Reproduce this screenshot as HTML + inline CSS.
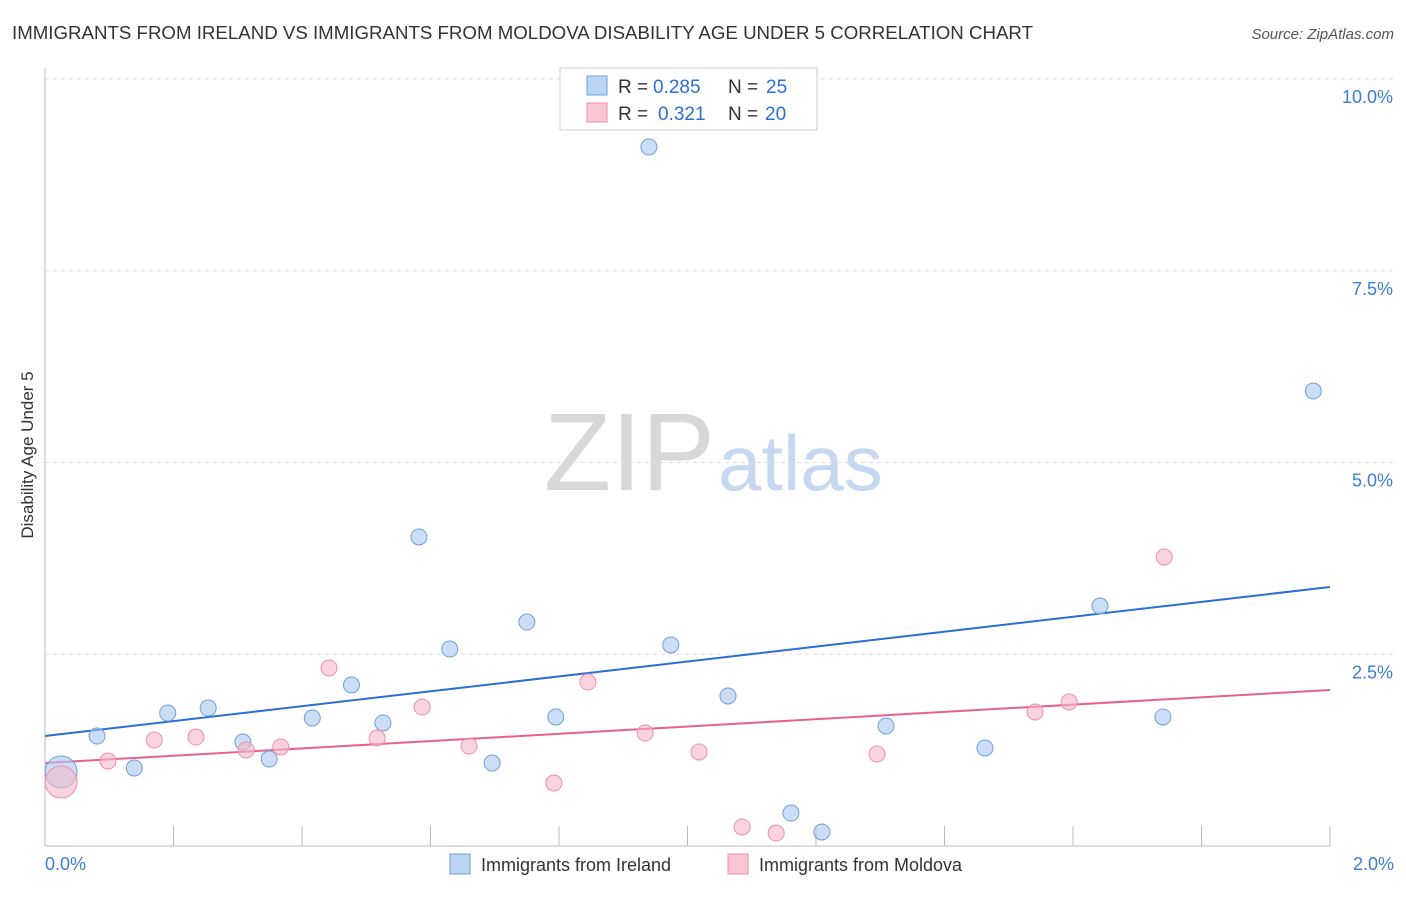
<!DOCTYPE html>
<html><head><meta charset="utf-8"><style>
body{margin:0;background:#fff;font-family:"Liberation Sans",sans-serif;}
svg text{font-family:"Liberation Sans",sans-serif;}
</style></head><body>
<svg id="chart" width="1406" height="892" viewBox="0 0 1406 892" xmlns="http://www.w3.org/2000/svg">
<text x="12" y="39" font-size="18" fill="#333" textLength="1021" lengthAdjust="spacingAndGlyphs">IMMIGRANTS FROM IRELAND VS IMMIGRANTS FROM MOLDOVA DISABILITY AGE UNDER 5 CORRELATION CHART</text>
<text x="1394" y="39" font-size="15" fill="#555" font-style="italic" text-anchor="end">Source: ZipAtlas.com</text>
<g>
<text x="715" y="490" font-size="110" fill="#d8d8d8" text-anchor="end" font-family="Liberation Serif,serif">ZIP</text>
<text x="718" y="490" font-size="78" fill="#c5d8f0">atlas</text>
</g>
<g id="grid"></g>
<line x1="45" y1="68" x2="45" y2="846" stroke="#bbb"/>
<line x1="45" y1="846" x2="1330" y2="846" stroke="#bbb"/>
<g id="xticks"></g>
<text transform="translate(33,455) rotate(-90)" font-size="17" fill="#333" text-anchor="middle">Disability Age Under 5</text>
<text x="45" y="870" font-size="18" fill="#3b7dd8">0.0%</text>
<text x="1394" y="870" font-size="18" fill="#3b7dd8" text-anchor="end">2.0%</text>
<g id="lines"></g>
<g id="points"></g>
<g>
<rect x="560" y="68" width="257" height="62" fill="#fff" stroke="#ccc"/>
<rect x="587" y="76" width="20" height="19" fill="#bcd4f4" stroke="#6fa0dc"/>
<rect x="587" y="103" width="20" height="19" fill="#f9c6d4" stroke="#ee8fab"/>
<text x="618" y="93" font-size="19" fill="#333">R =</text>
<text x="653" y="93" font-size="19" fill="#2a6fd6">0.285</text>
<text x="728" y="93" font-size="19" fill="#333">N =</text>
<text x="766" y="93" font-size="19" fill="#2a6fd6">25</text>
<text x="618" y="120" font-size="19" fill="#333">R =</text>
<text x="658" y="120" font-size="19" fill="#2a6fd6">0.321</text>
<text x="728" y="120" font-size="19" fill="#333">N =</text>
<text x="765" y="120" font-size="19" fill="#2a6fd6">20</text>
</g>
<g>
<rect x="450" y="854" width="20" height="20" fill="#bcd4f4" stroke="#6fa0dc"/>
<text x="481" y="871" font-size="18" fill="#333">Immigrants from Ireland</text>
<rect x="728" y="854" width="20" height="20" fill="#f9c6d4" stroke="#ee8fab"/>
<text x="759" y="871" font-size="18" fill="#333">Immigrants from Moldova</text>
</g>
</svg>
<script>
const yTicks=[2.5,5.0,7.5,10.0];
const yTickLabels=["2.5%","5.0%","7.5%","10.0%"];
const xTickVals=[0,0.2,0.4,0.6,0.8,1.0,1.2,1.4,1.6,1.8,2.0];
const irelandX=[0.025,0.081,0.139,0.191,0.254,0.308,0.349,0.416,0.477,0.526,0.582,0.630,0.696,0.750,0.795,0.940,0.974,1.063,1.161,1.209,1.309,1.463,1.642,1.740,1.974];
const irelandY=[0.965,1.434,1.017,1.734,1.799,1.356,1.134,1.669,2.099,1.604,4.029,2.568,1.082,2.920,1.682,9.113,2.621,1.956,0.430,0.183,1.565,1.278,3.129,1.682,5.932];
const moldovaX=[0.025,0.098,0.170,0.235,0.313,0.367,0.442,0.517,0.587,0.660,0.792,0.845,0.934,1.018,1.085,1.138,1.295,1.541,1.594,1.742];
const moldovaY=[0.834,1.108,1.382,1.421,1.252,1.291,2.321,1.408,1.812,1.304,0.821,2.138,1.473,1.226,0.248,0.169,1.199,1.747,1.877,3.768];
const trendX=[0,2.0];
const irelandTrend=[1.434,3.377];
const moldovaTrend=[1.082,2.034];
const NS="http://www.w3.org/2000/svg";
const sx=v=>45+v*642.5;
const sy=v=>846-v*76.7;
function mk(tag,attrs,parent){const e=document.createElementNS(NS,tag);for(const k in attrs)e.setAttribute(k,attrs[k]);parent.appendChild(e);return e;}
const grid=document.getElementById('grid');
yTicks.forEach((t,i)=>{
 const l=mk('line',{x1:45,x2:1394,y1:sy(t),y2:sy(t),stroke:'#ddd','stroke-dasharray':'4,4'},grid);
 
 
 const tx=mk('text',{x:1393,y:sy(t)+24,'font-size':18,fill:'#3b7dd8','text-anchor':'end'},grid);
 tx.textContent=yTickLabels[i];
 
 
});
const xt=document.getElementById('xticks');
xTickVals.forEach(v=>{
 const l=mk('line',{x1:sx(v),x2:sx(v),y1:826,y2:846,stroke:'#bbb'},xt);
 
 
});
const lines=document.getElementById('lines');
const pts=document.getElementById('points');
function series(xs,ys,fill,stroke,name){
 xs.forEach((x,i)=>{
  const c=mk('circle',{cx:sx(x),cy:sy(ys[i]),r:i===0?16:8,fill:fill,'fill-opacity':0.6,stroke:stroke,'stroke-width':1},pts);
  
  
 });
}
series(irelandX,irelandY,'#a9c8f0','#6fa0dc','ireland-point');
series(moldovaX,moldovaY,'#f5b8c8','#ee8fab','moldova-point');
const l1=mk('line',{x1:sx(trendX[0]),y1:sy(irelandTrend[0]),x2:sx(trendX[1]),y2:sy(irelandTrend[1]),stroke:'#2a6fd6','stroke-width':2},lines);


const l2=mk('line',{x1:sx(trendX[0]),y1:sy(moldovaTrend[0]),x2:sx(trendX[1]),y2:sy(moldovaTrend[1]),stroke:'#e8608c','stroke-width':2},lines);


</script>
</body></html>
